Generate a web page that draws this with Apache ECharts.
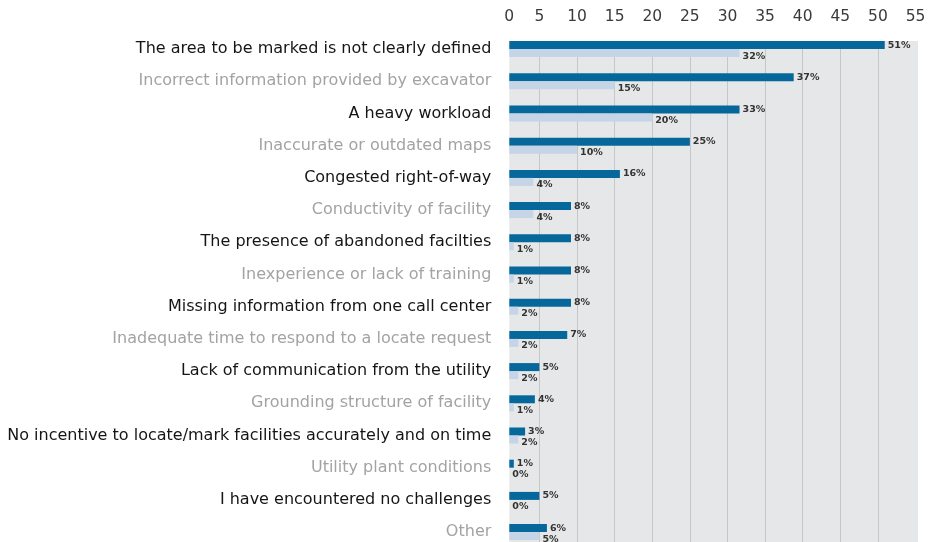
<!DOCTYPE html>
<html>
<head>
<meta charset="utf-8">
<script src="https://cdn.jsdelivr.net/npm/echarts@6/dist/echarts.min.js"></script>
<style>html,body{margin:0;padding:0;background:#fff}#c{width:935px;height:542px}</style>
</head>
<body>
<div id="c"></div>
<script>
const categories = [
  'The area to be marked is not clearly defined',
  'Incorrect information provided by excavator',
  'A heavy workload',
  'Inaccurate or outdated maps',
  'Congested right-of-way',
  'Conductivity of facility',
  'The presence of abandoned facilties',
  'Inexperience or lack of training',
  'Missing information from one call center',
  'Inadequate time to respond to a locate request',
  'Lack of communication from the utility',
  'Grounding structure of facility',
  'No incentive to locate/mark facilities accurately and on time',
  'Utility plant conditions',
  'I have encountered no challenges',
  'Other'
];
// bar lengths as drawn
const darkValues  = [50.9, 38.8, 31.6, 25.0, 15.7, 9.2, 9.2, 9.2, 9.2, 8.7, 5.0, 4.4, 3.1, 1.6, 5.0, 6.0];
const lightValues = [31.6, 15.0, 20.0, 10.0, 4.2, 4.2, 1.6, 1.6, 2.2, 2.2, 2.2, 1.6, 2.2, 0, 0, 5.0];
// printed percentages
const darkLabels  = [51, 37, 33, 25, 16, 8, 8, 8, 8, 7, 5, 4, 3, 1, 5, 6];
const lightLabels = [32, 15, 20, 10, 4, 4, 1, 1, 2, 2, 2, 1, 2, 0, 0, 5];
const tickValues = [1, 5, 10, 15, 20, 25, 30, 35, 40, 45, 50, 55];
const tickLabels = ['0', '5', '10', '15', '20', '25', '30', '35', '40', '45', '50', '55'];
const gridLineValues = [5, 10, 15, 20, 25, 30, 35, 40, 45, 50];

const FONT = '"DejaVu Sans", "Noto Sans", sans-serif';
const chart = echarts.init(document.getElementById('c'), null, {renderer: 'canvas'});
const valueLabel = (labels, dy) => ({
  show: true, position: 'right', distance: 3, offset: [0, dy],
  fontFamily: FONT, fontSize: 9.5, fontWeight: 'bold', color: '#333',
  formatter: p => labels[p.dataIndex] + '%'
});
chart.setOption({
  animation: false,
  backgroundColor: '#fff',
  grid: [
    {left: 509.3, right: 17, top: 33, height: 515.2, containLabel: false, outerBoundsMode: 'none'},
    {left: 509.3, right: 17, top: 41, height: 520, show: true, backgroundColor: '#e6e7e8', borderWidth: 0, outerBoundsMode: 'none'}
  ],
  xAxis: [
    {type: 'value', gridIndex: 0, position: 'top', min: 1, max: 55.32, startValue: 1,
     axisLine: {show: false}, axisTick: {show: false}, splitLine: {show: false},
     axisLabel: {customValues: tickValues, margin: 8, fontFamily: FONT, fontSize: 15.5, color: '#3a3a3a',
       formatter: v => tickLabels[tickValues.indexOf(v)]}},
    {type: 'value', gridIndex: 1, min: 1, max: 55.32,
     axisLine: {show: false}, axisLabel: {show: false},
     axisTick: {show: false, customValues: gridLineValues},
     splitLine: {show: true, lineStyle: {color: '#c6c7c8', width: 1}}}
  ],
  yAxis: [
    {type: 'category', gridIndex: 0, data: categories, inverse: true,
     axisLine: {show: false}, axisTick: {show: false}, splitLine: {show: false},
     axisLabel: {margin: 18, fontFamily: FONT, fontSize: 16,
       color: (v, i) => (i % 2 === 0 ? '#151515' : '#a3a3a3')}},
    {type: 'category', gridIndex: 1, data: categories, inverse: true, show: false}
  ],
  series: [
    {type: 'bar', xAxisIndex: 0, yAxisIndex: 0, data: darkValues, barWidth: 8, barGap: '0%',
     itemStyle: {color: '#06679a'}, label: valueLabel(darkLabels, 0)},
    {type: 'bar', xAxisIndex: 0, yAxisIndex: 0, data: lightValues, barWidth: 8, barGap: '0%',
     itemStyle: {color: '#c5d4e6'}, label: valueLabel(lightLabels, 3)}
  ]
});
</script>
</body>
</html>
